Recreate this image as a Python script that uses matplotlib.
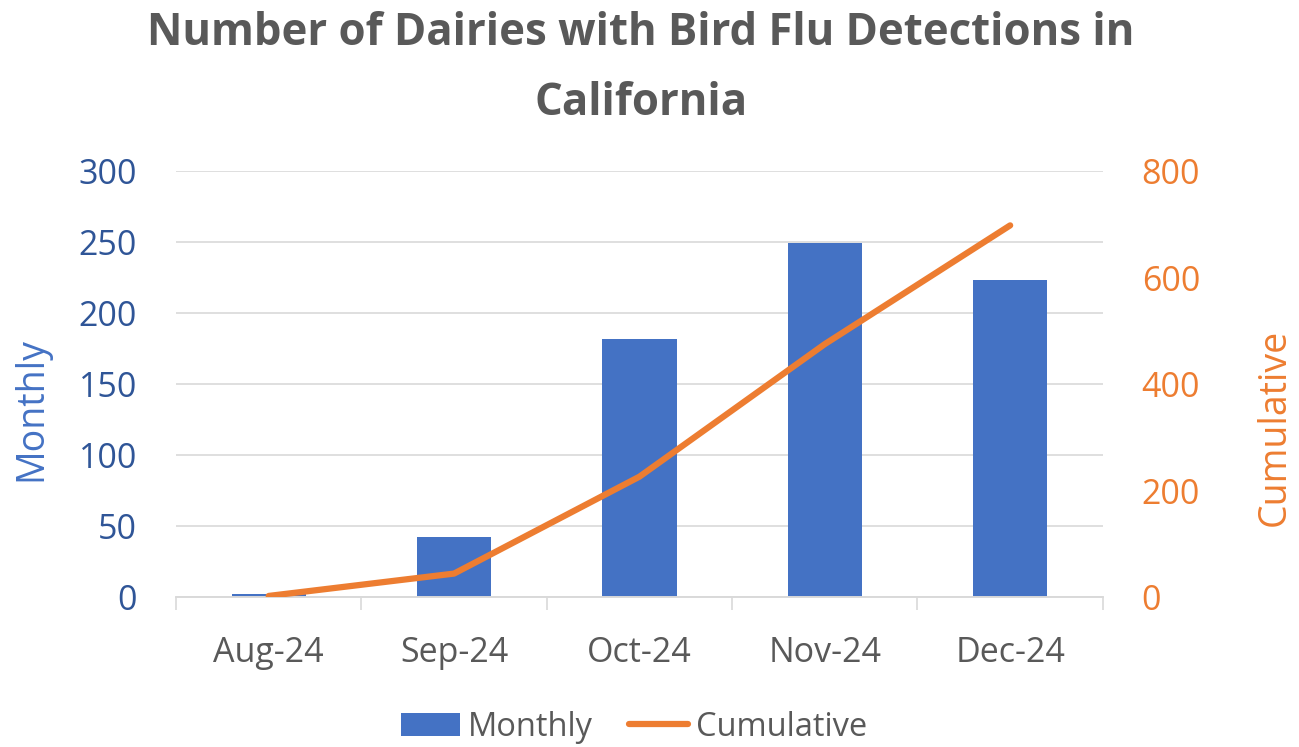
import matplotlib

matplotlib.use("Agg")
import matplotlib.pyplot as plt
import numpy as np
from matplotlib.ticker import FixedLocator

months = ["Aug-24", "Sep-24", "Oct-24", "Nov-24", "Dec-24"]
monthly = [2, 42, 182, 249, 223]
cumulative = [2, 44, 226, 475, 698]

BLUE = "#4472C4"
DARK_BLUE = "#2F5597"
ORANGE = "#ED7D31"
GRAY = "#595959"
GRID = "#D9D9D9"

plt.rcParams["font.family"] = ["Open Sans", "DejaVu Sans"]

fig = plt.figure(figsize=(12.99, 7.47), dpi=100)
ax = fig.add_axes([0.1355, 0.2008, 0.849 - 0.1355, 0.771 - 0.2008])
ax2 = ax.twinx()

x = np.arange(len(months))
ax.set_axisbelow(True)
ax.grid(axis="y", color=GRID, linewidth=1.2)
bars = ax.bar(x, monthly, width=0.4, color=BLUE, label="Monthly", zorder=2)
line, = ax2.plot(x, cumulative, color=ORANGE, linewidth=4.5, solid_capstyle="round",
                 label="Cumulative", zorder=3)

ax.set_xlim(-0.5, len(months) - 0.5)
ax.set_ylim(0, 300)
ax.set_yticks(np.arange(0, 301, 50))
ax2.set_ylim(0, 800)
ax2.set_yticks(np.arange(0, 801, 200))

ax.set_xticks(x)
ax.set_xticklabels(months)
ax.xaxis.set_minor_locator(FixedLocator(np.arange(-0.5, len(months), 1.0)))
ax.tick_params(axis="x", which="major", length=0, labelsize=24.5, colors=GRAY, pad=28)
ax.tick_params(axis="x", which="minor", length=9, width=1.2, color=GRID)
ax.tick_params(axis="y", length=0, labelsize=24.5, labelcolor=DARK_BLUE, pad=28)
ax2.tick_params(axis="y", length=0, labelsize=24.5, labelcolor=ORANGE, pad=28)

for a in (ax, ax2):
    for side in ("top", "left", "right"):
        a.spines[side].set_visible(False)
    a.spines["bottom"].set_color(GRID)
    a.spines["bottom"].set_linewidth(1.2)

fig.text(31 / 1299, 1 - 409 / 747, "Monthly", rotation=90, ha="center", va="center",
         fontsize=27, color=BLUE)
fig.text(1275 / 1299, 1 - 427 / 747, "Cumulative", rotation=90, ha="center", va="center",
         fontsize=27, color=ORANGE)

fig.text(641 / 1299, 1 - 45 / 747, "Number of Dairies with Bird Flu Detections in",
         ha="center", va="baseline", fontsize=31.5, fontweight="bold", color=GRAY)
fig.text(641 / 1299, 1 - 115 / 747, "California",
         ha="center", va="baseline", fontsize=31.5, fontweight="bold", color=GRAY)

fig.legend([bars, line], ["Monthly", "Cumulative"], loc="center",
           bbox_to_anchor=(634 / 1299, 1 - 727 / 747), ncol=2, frameon=False, fontsize=23.5,
           labelcolor=GRAY, handlelength=1.8, handleheight=0.7, handletextpad=0.25,
           columnspacing=1.1, borderpad=0)

fig.savefig("out.png", dpi=100)
